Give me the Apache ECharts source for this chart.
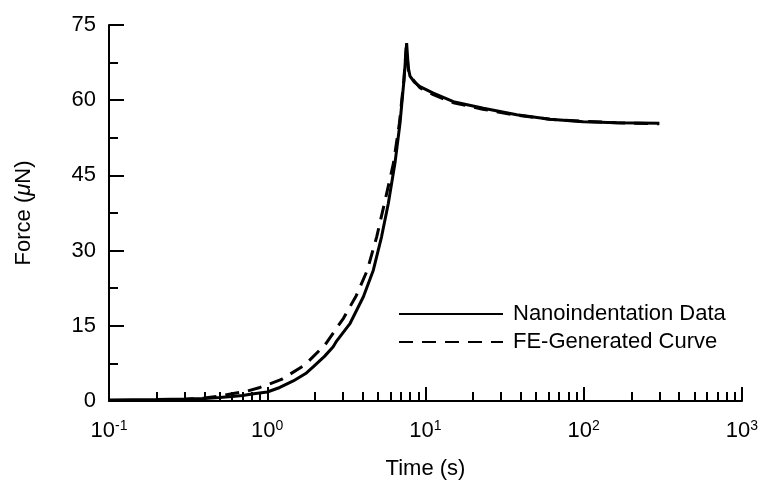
<!DOCTYPE html>
<html>
<head>
    <meta charset="utf-8">
    <title>Force vs Time</title>
    <script src="https://cdn.jsdelivr.net/npm/echarts@6/dist/echarts.min.js"></script>
</head>
<body style="margin:0; background:#fff;">
    <div id="main" style="width:766px; height:487px;"></div>
    <script>
        // time (s), force (uN)
        var nanoData = [
            [0.1, 0.2], [0.2, 0.3], [0.3, 0.4], [0.4, 0.5], [0.5, 0.7], [0.6, 0.9],
            [0.7, 1.1], [0.8, 1.4], [1.0, 1.8], [1.2, 2.7], [1.46, 4.0], [1.77, 5.6],
            [1.95, 6.8], [2.3, 8.9], [2.61, 10.8], [2.75, 12.0], [3.34, 15.5], [4.05, 20.8],
            [4.68, 26.1], [5.28, 32.8], [5.82, 39.4], [6.41, 47.4], [6.9, 55.4], [7.31, 64.0],
            [7.6, 71.4], [7.79, 66.4], [7.98, 64.8], [8.5, 63.6], [9.23, 62.7], [11.2, 61.4],
            [15, 59.7], [23.2, 58.4], [37.7, 57.1], [61.2, 56.2], [99.3, 55.7], [161, 55.5],
            [300, 55.4]
        ]
        var feData = [
            [0.2, 0.1], [0.3, 0.3], [0.4, 0.6], [0.5, 1.0], [0.61, 1.5], [0.75, 2.0],
            [0.9, 2.7], [1.23, 4.3], [1.73, 7.2], [2.32, 11.2], [3.03, 16.5], [3.65, 21.0],
            [4.29, 26.1], [4.92, 32.8], [5.5, 39.4], [6.27, 47.4], [6.84, 55.4], [7.3, 64.0],
            [7.55, 70.5], [7.8, 66.0], [8.3, 64.2], [9.2, 62.5], [11.2, 61.1], [15, 59.5],
            [23, 58.2], [37.7, 57.0], [61, 56.2], [99, 55.8], [161, 55.5], [300, 55.3]
        ]
        var majorTimes = [0.1, 1, 10, 100, 1000]
        var minorTimes = []
        for (var d = 0.1; d < 1000; d *= 10) {
            for (var k = 2; k <= 9; k++) {
                minorTimes.push(+(d * k).toPrecision(3))
            }
        }
        var seriesNames = ['Nanoindentation Data', 'FE-Generated Curve']

        var myChart = echarts.init(document.getElementById('main'))
        var font = 'Liberation Sans, Arial, sans-serif'

        var option = {
            animation: false,
            textStyle: { fontFamily: font },
            grid: { left: 109, right: 24, top: 25, bottom: 86 },
            legend: {
                orient: 'vertical',
                left: 393,
                top: 298,
                itemWidth: 104,
                itemHeight: 12,
                itemGap: 6,
                data: seriesNames,
                itemStyle: { color: 'rgba(0,0,0,0)', borderWidth: 0 },
                textStyle: { fontSize: 22, color: '#000', fontFamily: font, padding: [0, 0, 0, 5] }
            },
            xAxis: [{
                type: 'log',
                logBase: 10,
                min: 0.1,
                max: 1000,
                name: 'Time (s)',
                nameLocation: 'middle',
                nameGap: 57,
                nameTextStyle: { fontSize: 22, color: '#000' },
                axisLine: { lineStyle: { color: '#000', width: 2 } },
                axisTick: { inside: true, length: 14, customValues: majorTimes, lineStyle: { color: '#000', width: 2 } },
                splitLine: { show: false },
                axisLabel: {
                    margin: 18,
                    customValues: majorTimes,
                    formatter: function (v) {
                        return '{b|10}{s|' + Math.round(Math.log10(v)) + '}'
                    },
                    rich: {
                        b: { fontSize: 22, color: '#000', fontFamily: font },
                        s: { fontSize: 14, color: '#000', fontFamily: font, verticalAlign: 'top', padding: [0, 0, 10, 0] }
                    }
                }
            }, {
                type: 'log',
                logBase: 10,
                min: 0.1,
                max: 1000,
                position: 'bottom',
                axisLine: { show: false },
                axisLabel: { show: false },
                splitLine: { show: false },
                axisTick: { inside: true, length: 9, customValues: minorTimes, lineStyle: { color: '#000', width: 2 } }
            }],
            yAxis: {
                type: 'value',
                min: 0,
                max: 75,
                interval: 15,
                name: 'Force ({i|μ}N)',
                nameLocation: 'middle',
                nameRotate: 90,
                nameGap: 74,
                nameTextStyle: {
                    fontSize: 22, color: '#000',
                    rich: { i: { fontSize: 22, fontStyle: 'italic', color: '#000', fontFamily: font } }
                },
                axisLine: { show: true, lineStyle: { color: '#000', width: 2 } },
                axisTick: { inside: true, length: 15, lineStyle: { color: '#000', width: 2 } },
                minorTick: { show: true, splitNumber: 2, length: 9, lineStyle: { color: '#000', width: 2 } },
                splitLine: { show: false },
                axisLabel: { margin: 13, fontSize: 22, color: '#000' }
            },
            series: [{
                name: seriesNames[0],
                type: 'line',
                symbol: 'none',
                data: nanoData,
                lineStyle: { color: '#000', width: 3 },
                itemStyle: { color: '#000' }
            }, {
                name: seriesNames[1],
                type: 'line',
                symbol: 'none',
                data: feData,
                lineStyle: { color: '#000', width: 3, type: [14, 9] },
                itemStyle: { color: '#000' }
            }]
        }
        myChart.setOption(option)
    </script>
</body>
</html>
